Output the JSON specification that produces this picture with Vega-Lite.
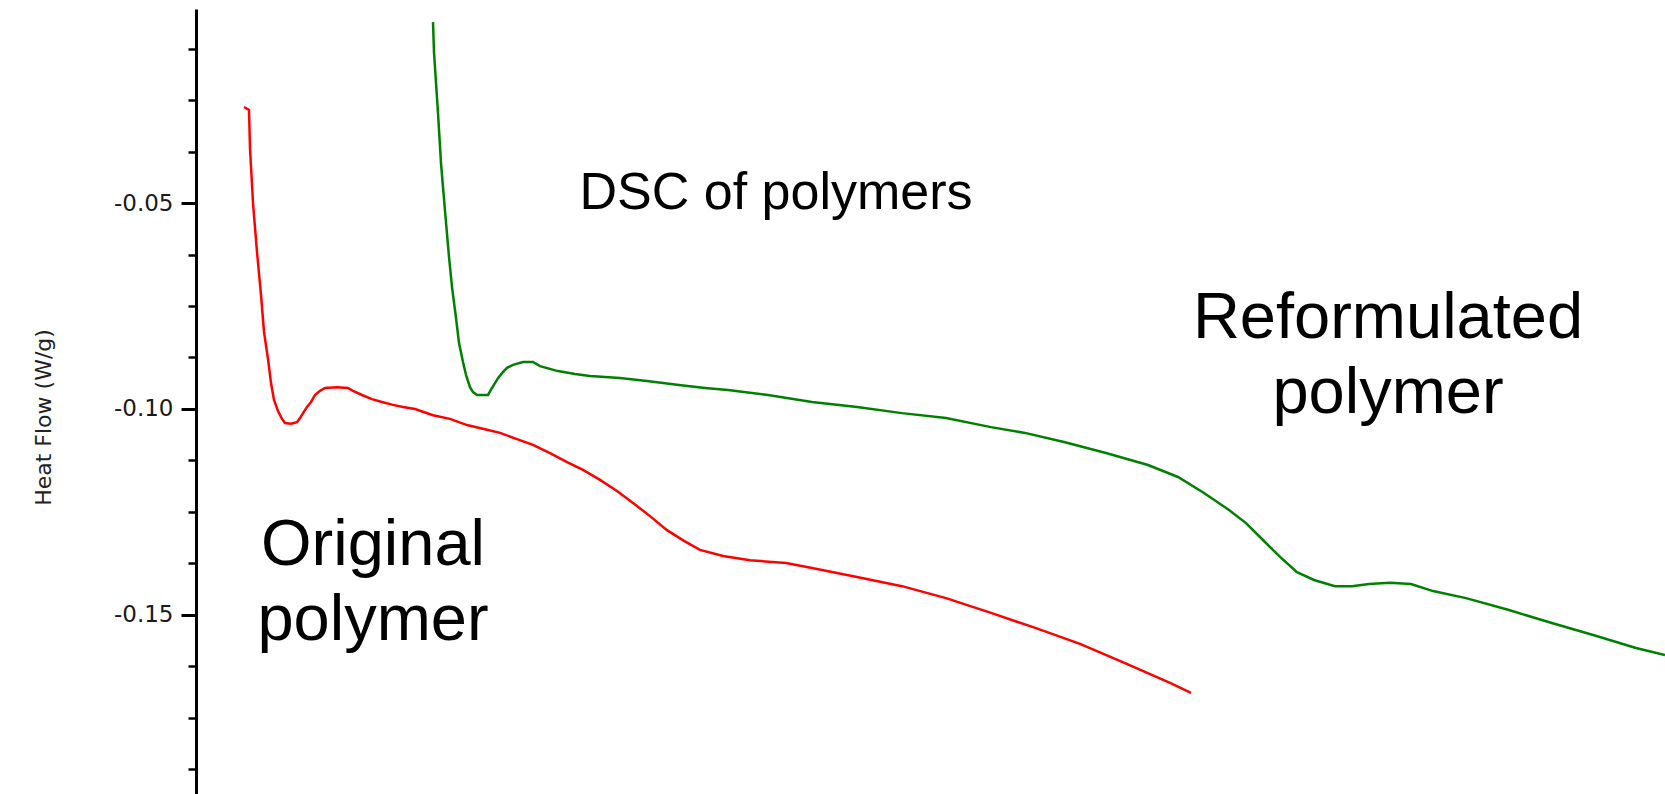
{
  "$schema": "https://vega.github.io/schema/vega-lite/v6.json",
  "width": 1469,
  "height": 785,
  "padding": {"left": 196, "top": 9, "right": 0, "bottom": 0},
  "autosize": {"type": "none"},
  "background": "#ffffff",
  "config": {"view": {"stroke": null}, "font": "Liberation Sans"},
  "datasets": {
    "curves": [
      {"s": "Original polymer", "i": 1, "t": 48, "v": -0.0267},
      {"s": "Original polymer", "i": 2, "t": 53, "v": -0.0274},
      {"s": "Original polymer", "i": 3, "t": 54, "v": -0.0367},
      {"s": "Original polymer", "i": 4, "t": 57, "v": -0.0500},
      {"s": "Original polymer", "i": 5, "t": 61, "v": -0.0619},
      {"s": "Original polymer", "i": 6, "t": 65, "v": -0.0723},
      {"s": "Original polymer", "i": 7, "t": 68, "v": -0.0813},
      {"s": "Original polymer", "i": 8, "t": 72, "v": -0.0879},
      {"s": "Original polymer", "i": 9, "t": 75, "v": -0.0937},
      {"s": "Original polymer", "i": 10, "t": 78, "v": -0.0978},
      {"s": "Original polymer", "i": 11, "t": 82, "v": -0.1005},
      {"s": "Original polymer", "i": 12, "t": 86, "v": -0.1024},
      {"s": "Original polymer", "i": 13, "t": 89, "v": -0.1034},
      {"s": "Original polymer", "i": 14, "t": 95, "v": -0.1036},
      {"s": "Original polymer", "i": 15, "t": 101, "v": -0.1032},
      {"s": "Original polymer", "i": 16, "t": 104, "v": -0.1022},
      {"s": "Original polymer", "i": 17, "t": 107, "v": -0.1010},
      {"s": "Original polymer", "i": 18, "t": 111, "v": -0.0995},
      {"s": "Original polymer", "i": 19, "t": 115, "v": -0.0983},
      {"s": "Original polymer", "i": 20, "t": 119, "v": -0.0966},
      {"s": "Original polymer", "i": 21, "t": 124, "v": -0.0956},
      {"s": "Original polymer", "i": 22, "t": 129, "v": -0.0949},
      {"s": "Original polymer", "i": 23, "t": 141, "v": -0.0947},
      {"s": "Original polymer", "i": 24, "t": 152, "v": -0.0949},
      {"s": "Original polymer", "i": 25, "t": 157, "v": -0.0956},
      {"s": "Original polymer", "i": 26, "t": 166, "v": -0.0966},
      {"s": "Original polymer", "i": 27, "t": 176, "v": -0.0976},
      {"s": "Original polymer", "i": 28, "t": 186, "v": -0.0983},
      {"s": "Original polymer", "i": 29, "t": 197, "v": -0.0990},
      {"s": "Original polymer", "i": 30, "t": 207, "v": -0.0995},
      {"s": "Original polymer", "i": 31, "t": 219, "v": -0.1000},
      {"s": "Original polymer", "i": 32, "t": 237, "v": -0.1015},
      {"s": "Original polymer", "i": 33, "t": 254, "v": -0.1024},
      {"s": "Original polymer", "i": 34, "t": 271, "v": -0.1039},
      {"s": "Original polymer", "i": 35, "t": 289, "v": -0.1049},
      {"s": "Original polymer", "i": 36, "t": 304, "v": -0.1058},
      {"s": "Original polymer", "i": 37, "t": 321, "v": -0.1073},
      {"s": "Original polymer", "i": 38, "t": 337, "v": -0.1087},
      {"s": "Original polymer", "i": 39, "t": 354, "v": -0.1107},
      {"s": "Original polymer", "i": 40, "t": 371, "v": -0.1129},
      {"s": "Original polymer", "i": 41, "t": 387, "v": -0.1148},
      {"s": "Original polymer", "i": 42, "t": 404, "v": -0.1172},
      {"s": "Original polymer", "i": 43, "t": 421, "v": -0.1199},
      {"s": "Original polymer", "i": 44, "t": 437, "v": -0.1228},
      {"s": "Original polymer", "i": 45, "t": 454, "v": -0.1260},
      {"s": "Original polymer", "i": 46, "t": 471, "v": -0.1294},
      {"s": "Original polymer", "i": 47, "t": 488, "v": -0.1320},
      {"s": "Original polymer", "i": 48, "t": 504, "v": -0.1342},
      {"s": "Original polymer", "i": 49, "t": 527, "v": -0.1357},
      {"s": "Original polymer", "i": 50, "t": 554, "v": -0.1367},
      {"s": "Original polymer", "i": 51, "t": 590, "v": -0.1374},
      {"s": "Original polymer", "i": 52, "t": 616, "v": -0.1386},
      {"s": "Original polymer", "i": 53, "t": 661, "v": -0.1408},
      {"s": "Original polymer", "i": 54, "t": 706, "v": -0.1430},
      {"s": "Original polymer", "i": 55, "t": 750, "v": -0.1459},
      {"s": "Original polymer", "i": 56, "t": 795, "v": -0.1495},
      {"s": "Original polymer", "i": 57, "t": 840, "v": -0.1532},
      {"s": "Original polymer", "i": 58, "t": 884, "v": -0.1570},
      {"s": "Original polymer", "i": 59, "t": 929, "v": -0.1617},
      {"s": "Original polymer", "i": 60, "t": 974, "v": -0.1665},
      {"s": "Original polymer", "i": 61, "t": 995, "v": -0.1689},
      {"s": "Reformulated polymer", "i": 1, "t": 237, "v": -0.0061},
      {"s": "Reformulated polymer", "i": 2, "t": 238, "v": -0.0134},
      {"s": "Reformulated polymer", "i": 3, "t": 242, "v": -0.0282},
      {"s": "Reformulated polymer", "i": 4, "t": 245, "v": -0.0403},
      {"s": "Reformulated polymer", "i": 5, "t": 249, "v": -0.0519},
      {"s": "Reformulated polymer", "i": 6, "t": 253, "v": -0.0631},
      {"s": "Reformulated polymer", "i": 7, "t": 256, "v": -0.0704},
      {"s": "Reformulated polymer", "i": 8, "t": 260, "v": -0.0779},
      {"s": "Reformulated polymer", "i": 9, "t": 263, "v": -0.0840},
      {"s": "Reformulated polymer", "i": 10, "t": 267, "v": -0.0886},
      {"s": "Reformulated polymer", "i": 11, "t": 270, "v": -0.0917},
      {"s": "Reformulated polymer", "i": 12, "t": 274, "v": -0.0947},
      {"s": "Reformulated polymer", "i": 13, "t": 277, "v": -0.0959},
      {"s": "Reformulated polymer", "i": 14, "t": 281, "v": -0.0966},
      {"s": "Reformulated polymer", "i": 15, "t": 292, "v": -0.0966},
      {"s": "Reformulated polymer", "i": 16, "t": 296, "v": -0.0949},
      {"s": "Reformulated polymer", "i": 17, "t": 299, "v": -0.0937},
      {"s": "Reformulated polymer", "i": 18, "t": 302, "v": -0.0925},
      {"s": "Reformulated polymer", "i": 19, "t": 306, "v": -0.0913},
      {"s": "Reformulated polymer", "i": 20, "t": 311, "v": -0.0900},
      {"s": "Reformulated polymer", "i": 21, "t": 317, "v": -0.0893},
      {"s": "Reformulated polymer", "i": 22, "t": 327, "v": -0.0886},
      {"s": "Reformulated polymer", "i": 23, "t": 337, "v": -0.0886},
      {"s": "Reformulated polymer", "i": 24, "t": 344, "v": -0.0896},
      {"s": "Reformulated polymer", "i": 25, "t": 362, "v": -0.0908},
      {"s": "Reformulated polymer", "i": 26, "t": 379, "v": -0.0915},
      {"s": "Reformulated polymer", "i": 27, "t": 394, "v": -0.0920},
      {"s": "Reformulated polymer", "i": 28, "t": 424, "v": -0.0925},
      {"s": "Reformulated polymer", "i": 29, "t": 451, "v": -0.0932},
      {"s": "Reformulated polymer", "i": 30, "t": 483, "v": -0.0942},
      {"s": "Reformulated polymer", "i": 31, "t": 509, "v": -0.0949},
      {"s": "Reformulated polymer", "i": 32, "t": 532, "v": -0.0954},
      {"s": "Reformulated polymer", "i": 33, "t": 572, "v": -0.0966},
      {"s": "Reformulated polymer", "i": 34, "t": 616, "v": -0.0983},
      {"s": "Reformulated polymer", "i": 35, "t": 661, "v": -0.0995},
      {"s": "Reformulated polymer", "i": 36, "t": 706, "v": -0.1010},
      {"s": "Reformulated polymer", "i": 37, "t": 750, "v": -0.1022},
      {"s": "Reformulated polymer", "i": 38, "t": 795, "v": -0.1044},
      {"s": "Reformulated polymer", "i": 39, "t": 829, "v": -0.1058},
      {"s": "Reformulated polymer", "i": 40, "t": 868, "v": -0.1080},
      {"s": "Reformulated polymer", "i": 41, "t": 910, "v": -0.1107},
      {"s": "Reformulated polymer", "i": 42, "t": 952, "v": -0.1136},
      {"s": "Reformulated polymer", "i": 43, "t": 982, "v": -0.1165},
      {"s": "Reformulated polymer", "i": 44, "t": 1008, "v": -0.1204},
      {"s": "Reformulated polymer", "i": 45, "t": 1033, "v": -0.1245},
      {"s": "Reformulated polymer", "i": 46, "t": 1050, "v": -0.1277},
      {"s": "Reformulated polymer", "i": 47, "t": 1067, "v": -0.1318},
      {"s": "Reformulated polymer", "i": 48, "t": 1084, "v": -0.1359},
      {"s": "Reformulated polymer", "i": 49, "t": 1101, "v": -0.1396},
      {"s": "Reformulated polymer", "i": 50, "t": 1118, "v": -0.1415},
      {"s": "Reformulated polymer", "i": 51, "t": 1139, "v": -0.1430},
      {"s": "Reformulated polymer", "i": 52, "t": 1156, "v": -0.1430},
      {"s": "Reformulated polymer", "i": 53, "t": 1173, "v": -0.1425},
      {"s": "Reformulated polymer", "i": 54, "t": 1194, "v": -0.1422},
      {"s": "Reformulated polymer", "i": 55, "t": 1215, "v": -0.1425},
      {"s": "Reformulated polymer", "i": 56, "t": 1237, "v": -0.1442},
      {"s": "Reformulated polymer", "i": 57, "t": 1270, "v": -0.1459},
      {"s": "Reformulated polymer", "i": 58, "t": 1313, "v": -0.1488},
      {"s": "Reformulated polymer", "i": 59, "t": 1355, "v": -0.1519},
      {"s": "Reformulated polymer", "i": 60, "t": 1398, "v": -0.1549},
      {"s": "Reformulated polymer", "i": 61, "t": 1440, "v": -0.1580},
      {"s": "Reformulated polymer", "i": 62, "t": 1469, "v": -0.1597}
    ],
    "notes": [
      {"label": "Original\npolymer", "t": 177, "v": -0.1379},
      {"label": "Reformulated\npolymer", "t": 1192, "v": -0.0828}
    ],
    "heading": [
      {"label": "DSC of polymers", "t": 580, "v": -0.0515}
    ]
  },
  "layer": [
    {
      "data": {"name": "curves"},
      "mark": {"type": "line", "strokeWidth": 2.5, "clip": true},
      "encoding": {
        "x": {"field": "t", "type": "quantitative", "scale": {"domain": [0, 1469], "nice": false, "zero": false}, "axis": null},
        "y": {
          "field": "v", "type": "quantitative",
          "scale": {"domain": [-0.19345, -0.00291], "nice": false, "zero": false},
          "axis": {
            "orient": "left",
            "values": [-0.15, -0.10, -0.05],
            "format": ".2f",
            "labelExpr": "replace(datum.label, '\u2212', '-')",
            "title": "Heat Flow (W/g)",
            "titleFont": "DejaVu Sans",
            "titleFontSize": 22,
            "titleFontWeight": "normal",
            "titleColor": "#222222",
            "titleAngle": -90,
            "titleAlign": "center",
            "titleBaseline": "middle",
            "titleX": -153,
            "titleY": 408,
            "domain": true,
            "domainColor": "#000000",
            "domainWidth": 3,
            "ticks": true,
            "tickColor": "#000000",
            "tickSize": 15,
            "tickWidth": 3,
            "labelFont": "DejaVu Sans",
            "labelFontSize": 23,
            "labelColor": "#1a1a1a",
            "labelPadding": 8,
            "grid": false
          }
        },
        "color": {"field": "s", "type": "nominal", "scale": {"domain": ["Original polymer", "Reformulated polymer"], "range": ["#ff0000", "#008000"]}, "legend": null},
        "order": {"field": "i", "type": "quantitative"}
      }
    },
    {
      "data": {"name": "notes"},
      "mark": {"type": "text", "font": "Liberation Sans", "fontSize": 65, "lineBreak": "\n", "lineHeight": 75, "align": "center", "baseline": "alphabetic", "color": "#000000"},
      "encoding": {
        "x": {"field": "t", "type": "quantitative", "axis": null},
        "y": {
          "field": "v", "type": "quantitative",
          "axis": {
            "orient": "left",
            "values": [-0.0125, -0.025, -0.0375, -0.0625, -0.075, -0.0875, -0.1125, -0.125, -0.1375, -0.1625, -0.175, -0.1875],
            "labels": false,
            "domain": false,
            "title": null,
            "ticks": true,
            "tickColor": "#000000",
            "tickSize": 8,
            "tickWidth": 2.5,
            "grid": false
          }
        },
        "text": {"field": "label"}
      }
    },
    {
      "data": {"name": "heading"},
      "mark": {"type": "text", "font": "Liberation Sans", "fontSize": 52, "align": "center", "baseline": "alphabetic", "color": "#000000"},
      "encoding": {
        "x": {"field": "t", "type": "quantitative", "axis": null},
        "y": {"field": "v", "type": "quantitative", "axis": null},
        "text": {"field": "label"}
      }
    }
  ],
  "resolve": {"axis": {"y": "independent"}}
}
